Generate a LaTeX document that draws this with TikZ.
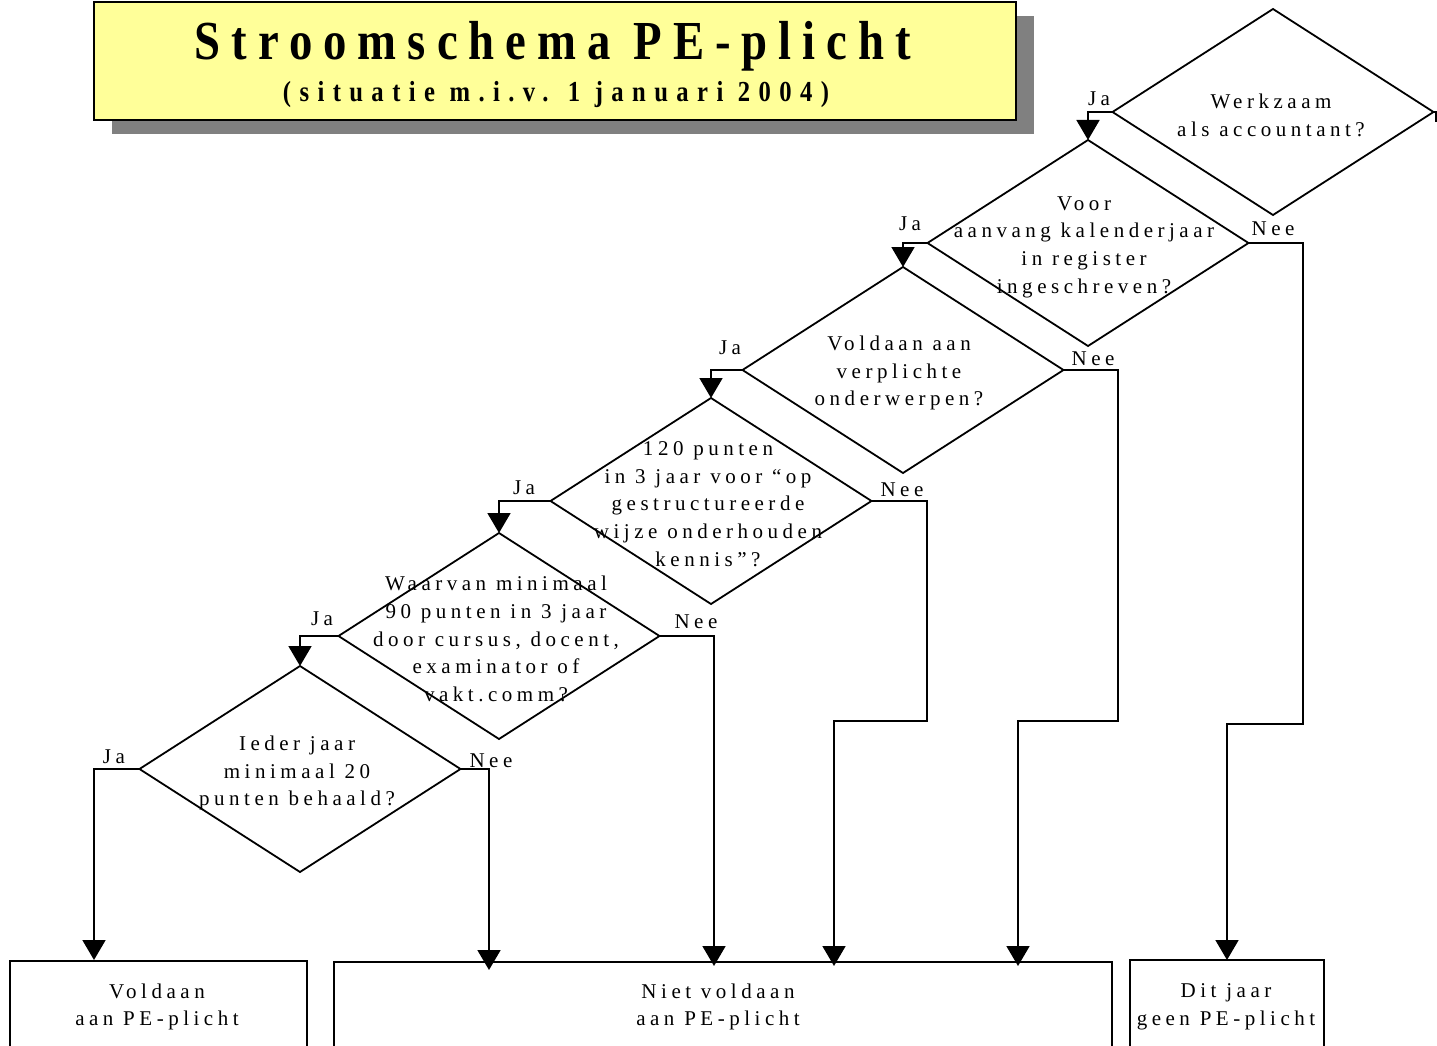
\documentclass[tikz,border=0pt]{standalone}
\usepackage{fontspec}
\setmainfont{Liberation Serif}
\newfontfamily\bodyfont[LetterSpace=21.5]{Liberation Serif}
\newfontfamily\ttlfont[LetterSpace=20,FakeStretch=0.85]{Liberation Serif}
\newfontfamily\subfont[LetterSpace=29,FakeStretch=0.85]{Liberation Serif}
\usetikzlibrary{arrows.meta,shapes.geometric}
\definecolor{titleyellow}{HTML}{FFFF99}
\definecolor{shadowgray}{HTML}{808080}
\begin{document}
\begin{tikzpicture}[x=1pt,y=-1pt,
  dec/.style={draw,shape=diamond,minimum width=321pt,minimum height=206pt,inner sep=0pt,outer sep=0pt,line width=1.8pt},
  qtext/.style={align=center,font=\bodyfont\fontsize{21}{27.7}\selectfont,inner sep=0pt},
  lbl/.style={font=\bodyfont\fontsize{21}{25}\selectfont,inner sep=0pt},
  flow/.style={line width=1.8pt,-{Triangle[length=20pt,width=23pt]}},
  plain/.style={line width=1.8pt},
  endbox/.style={draw,line width=1.8pt,anchor=north west,inner sep=0pt,outer sep=0pt}
]
\useasboundingbox (0,0) rectangle (1437,1046);
% title
\fill[shadowgray] (112,16) rectangle (1034,134);
\node[draw,line width=1.8pt,fill=titleyellow,anchor=north west,minimum width=922pt,minimum height=118pt,inner sep=0pt,outer sep=0pt] (titlebox) at (94,2) {};
\node[font=\ttlfont\bfseries\fontsize{55}{60}\selectfont,anchor=base,inner sep=0pt] (title) at (553,60) {Stroomschema PE-plicht};
\node[font=\subfont\bfseries\fontsize{29}{32}\selectfont,anchor=base,inner sep=0pt] (subtitle) at (556,102) {(situatie m.i.v. 1 januari 2004)};

% diamonds
\node[dec] (d1) at (1273,112) {};
\node[dec] (d2) at (1088,243) {};
\node[dec] (d3) at (903,370) {};
\node[dec] (d4) at (711,501) {};
\node[dec] (d5) at (499,636) {};
\node[dec] (d6) at (300,769) {};

\node[qtext] (t1) at (1271,115.5) {Werkzaam\\als accountant?};
\node[qtext] (t2) at (1084,247) {Voor\\aanvang kalenderjaar\\in register\\ingeschreven?};
\node[qtext] (t3) at (899,373) {Voldaan aan\\verplichte\\onderwerpen?};
\node[qtext] (t4) at (708,504) {120 punten\\in 3 jaar voor “op\\gestructureerde\\wijze onderhouden\\kennis”?};
\node[qtext] (t5) at (496,639) {Waarvan minimaal\\90 punten in 3 jaar\\door cursus, docent,\\examinator of\\vakt.comm?};
\node[qtext] (t6) at (297,773) {Ieder jaar\\minimaal 20\\punten behaald?};

% end boxes
\node[endbox,minimum width=297pt,minimum height=120pt] (b1) at (10,961) {};
\node[endbox,minimum width=778pt,minimum height=120pt] (b2) at (334,962) {};
\node[endbox,minimum width=194pt,minimum height=120pt] (b3) at (1130,960) {};
\node[qtext] (b1t) at (157,1007) {Voldaan\\aan PE-plicht};
\node[qtext] (b2t) at (718,1007) {Niet voldaan\\aan PE-plicht};
\node[qtext] (b3t) at (1226,1007) {Dit jaar\\geen PE-plicht};

% arrow end coordinates
\coordinate (e1) at (94,960);
\coordinate (e2) at (489,970);
\coordinate (e3) at (714,966);
\coordinate (e4) at (834,966);
\coordinate (e5) at (1018,966);
\coordinate (e6) at (1227,960);
\coordinate (d1out) at (1436,122);

% Ja connectors
\draw[flow] (d1.west) -| (d2.north);
\draw[flow] (d2.west) -| (d3.north);
\draw[flow] (d3.west) -| (d4.north);
\draw[flow] (d4.west) -| (d5.north);
\draw[flow] (d5.west) -| (d6.north);
\draw[flow] (d6.west) -| (e1);

% Nee connectors
\draw[plain] (d1.east) -| (d1out);
\draw[flow] (d2.east) -| (1303,724) -| (e6);
\draw[flow] (d3.east) -| (1118,721) -| (e5);
\draw[flow] (d4.east) -| (927,721) -| (e4);
\draw[flow] (d5.east) -| (e3);
\draw[flow] (d6.east) -| (e2);

% labels
\node[lbl] (j1) at (1099,99) {Ja};
\node[lbl] (j2) at (910,224) {Ja};
\node[lbl] (j3) at (730,348) {Ja};
\node[lbl] (j4) at (524,488) {Ja};
\node[lbl] (j5) at (322,619) {Ja};
\node[lbl] (j6) at (114,757) {Ja};
\node[lbl] (n2) at (1273,229) {Nee};
\node[lbl] (n3) at (1093,359) {Nee};
\node[lbl] (n4) at (902,490) {Nee};
\node[lbl] (n5) at (696,622) {Nee};
\node[lbl] (n6) at (491,761) {Nee};
\end{tikzpicture}
\end{document}
